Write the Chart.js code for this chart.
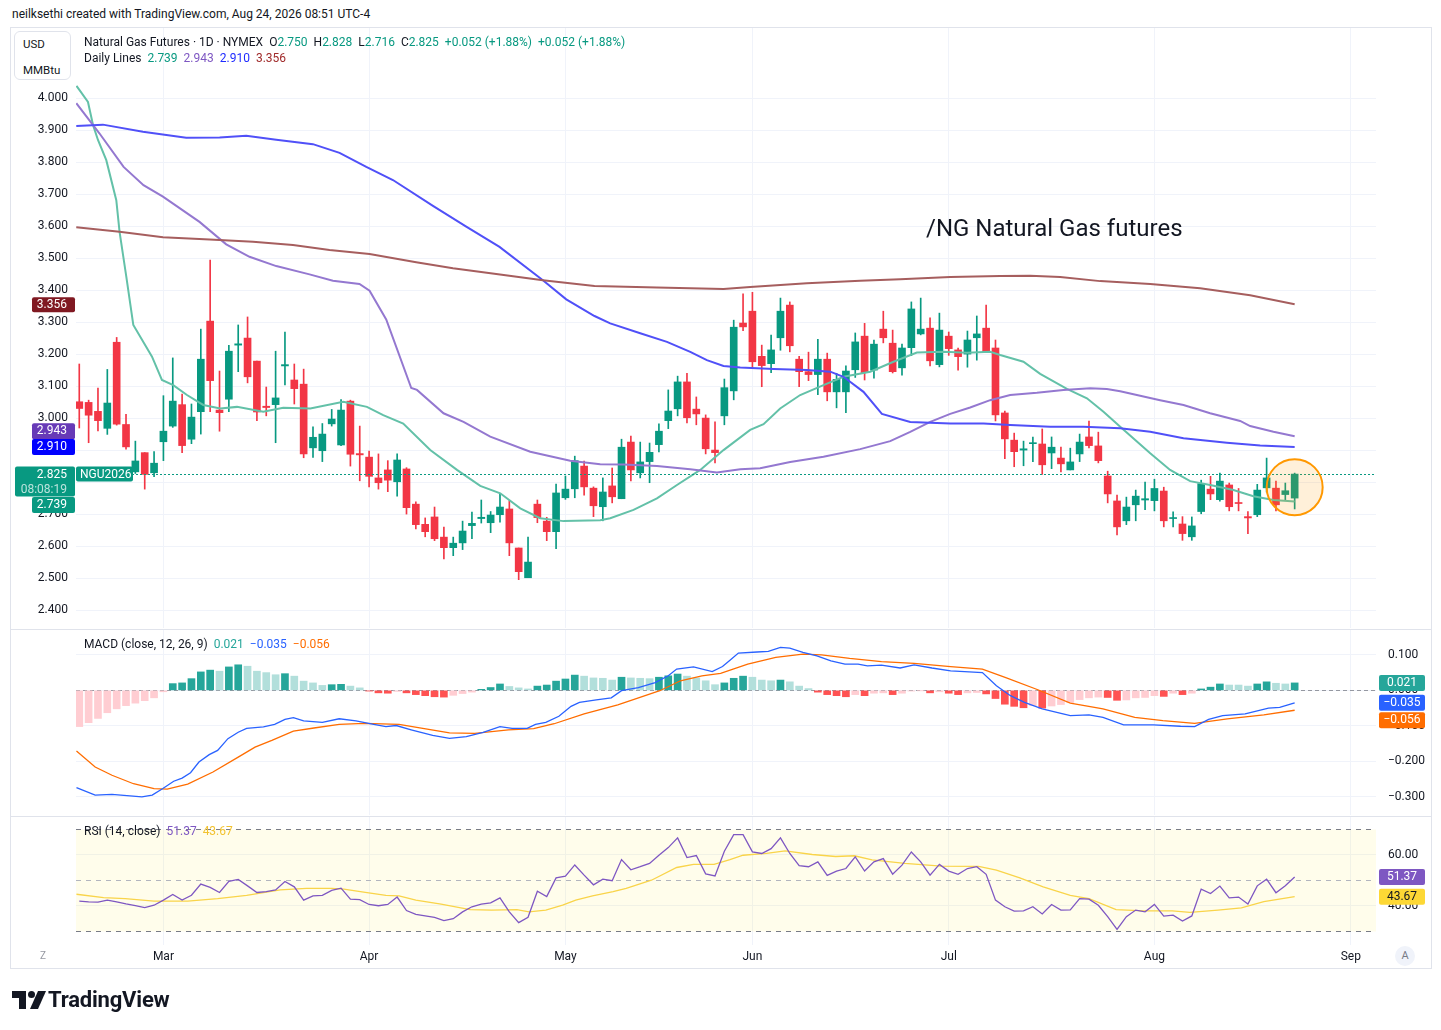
<!DOCTYPE html>
<html>
<head>
<meta charset="utf-8">
<script src="https://cdn.jsdelivr.net/npm/chart.js@4.4.1/dist/chart.umd.min.js"></script>
<style>
body{margin:0;background:#fff;width:1441px;height:1030px;position:relative;overflow:hidden;font-family:Roboto,"Liberation Sans",Arial,sans-serif;color:#131722}
.abs{position:absolute}
.sep{left:10px;width:1422px;height:1px;background:#e0e3eb}
.lg{font-size:12px;line-height:14px;white-space:nowrap}
.lg span{margin-right:6px}
.up{color:#089981}
</style>
</head>
<body>
<div class="abs lg" style="left:12px;top:7px">neilksethi created with TradingView.com, Aug 24, 2026 08:51 UTC-4</div>
<div class="abs" style="left:10px;top:27px;width:1422px;height:942px;border:1px solid #e0e3eb;box-sizing:border-box"></div>

<canvas id="main" class="abs" style="left:12px;top:28px" width="1420" height="600"></canvas>
<div class="abs sep" style="top:629px"></div>
<canvas id="macd" class="abs" style="left:12px;top:630px" width="1420" height="185"></canvas>
<div class="abs sep" style="top:816px"></div>
<canvas id="rsi" class="abs" style="left:12px;top:817px" width="1420" height="151"></canvas>

<div class="abs" style="left:14px;top:31px;width:57px;height:49px;border:1px solid #e0e3eb;border-radius:6px;box-sizing:border-box;background:#fff;font-size:11.5px">
  <div class="abs" style="left:8px;top:5px">USD</div>
  <div class="abs" style="left:8px;top:31px">MMBtu</div>
</div>
<div class="abs lg" style="left:84px;top:35px">
  <span>Natural Gas Futures · 1D · NYMEX</span><span>O<b class="up" style="font-weight:normal">2.750</b></span><span>H<b class="up" style="font-weight:normal">2.828</b></span><span>L<b class="up" style="font-weight:normal">2.716</b></span><span>C<b class="up" style="font-weight:normal">2.825</b></span><span class="up">+0.052 (+1.88%)</span><span class="up">+0.052 (+1.88%)</span>
</div>
<div class="abs lg" style="left:84px;top:51px">
  <span>Daily Lines</span><span style="color:#089981">2.739</span><span style="color:#7e57c2">2.943</span><span style="color:#1f2bff">2.910</span><span style="color:#a02a2a">3.356</span>
</div>
<div class="abs" style="left:926px;top:213px;font-size:24px;line-height:30px;white-space:nowrap">/NG Natural Gas futures</div>
<div class="abs lg" style="left:84px;top:637px">
  <span>MACD (close, 12, 26, 9)</span><span style="color:#26a69a">0.021</span><span style="color:#2962ff">−0.035</span><span style="color:#ff6d00">−0.056</span>
</div>
<div class="abs lg" style="left:84px;top:824px">
  <span>RSI (14, close)</span><span style="color:#7e57c2">51.37</span><span style="color:#f2c230">43.67</span>
</div>
<div class="abs" style="left:35px;top:948px;width:16px;height:16px;border-radius:8px;font-size:10px;line-height:16px;text-align:center;color:#9598a1">Z</div>
<div class="abs" style="left:1395px;top:946px;width:20px;height:20px;border-radius:10px;background:#f0f3fa;font-size:11px;line-height:20px;text-align:center;color:#787b86">A</div>
<svg class="abs" style="left:12px;top:991px" width="34" height="18" viewBox="0 0 34 18">
  <path d="M0 0H14V18H7V7H0Z" fill="#131722"/>
  <circle cx="19.5" cy="3.5" r="3.5" fill="#131722"/>
  <path d="M26 0H34L26 18H18Z" fill="#131722"/>
</svg>
<div class="abs" style="left:48px;top:986px;font-size:22px;line-height:28px;font-weight:700;letter-spacing:-0.2px">TradingView</div>

<script>
// ---- data ----
const monthIdx = [9, 31, 52, 72, 93, 115, 136];
const monthNames = ['Mar', 'Apr', 'May', 'Jun', 'Jul', 'Aug', 'Sep'];
const priceTicks = [2.4, 2.5, 2.6, 2.7, 2.8, 2.9, 3.0, 3.1, 3.2, 3.3, 3.4, 3.5, 3.6, 3.7, 3.8, 3.9, 4.0];
const macdTicks = [0.1, 0, -0.1, -0.2, -0.3];
const rsiTicks = [60, 40];

const openP = [3.051,3.049,3.021,2.968,3.237,2.980,2.832,2.892,2.829,2.926,
2.975,3.042,2.934,3.020,3.303,3.025,3.059,3.228,3.250,3.178,
3.037,3.042,3.163,3.119,3.106,2.907,2.898,2.982,2.916,3.053,
2.889,2.878,2.813,2.838,2.801,2.841,2.731,2.668,2.691,2.628,
2.595,2.610,2.664,2.686,2.673,2.698,2.716,2.594,2.501,2.731,
2.678,2.645,2.751,2.779,2.850,2.781,2.723,2.788,2.748,2.925,
2.829,2.864,2.917,2.992,3.029,3.113,3.028,3.000,2.900,3.007,
3.085,3.297,3.334,3.193,3.170,3.251,3.353,3.184,3.145,3.136,
3.184,3.082,3.082,3.151,3.256,3.150,3.278,3.234,3.157,3.220,
3.263,3.281,3.167,3.256,3.213,3.200,3.251,3.281,3.219,3.016,
2.931,2.900,2.920,2.919,2.891,2.875,2.838,2.888,2.941,2.913,
2.819,2.741,2.679,2.729,2.744,2.742,2.772,2.686,2.669,2.629,
2.708,2.778,2.745,2.791,2.736,2.692,2.698,2.782,2.781,2.761,
2.750];
const highP = [3.169,3.056,3.094,3.152,3.252,3.012,2.928,2.892,2.895,3.070,
3.188,3.075,3.044,3.278,3.494,3.147,3.227,3.291,3.316,3.178,
3.097,3.209,3.269,3.169,3.153,2.973,2.983,3.027,3.058,3.056,
2.975,2.897,2.888,2.867,2.888,2.845,2.738,2.688,2.722,2.659,
2.628,2.678,2.706,2.744,2.708,2.763,2.741,2.594,2.628,2.744,
2.690,2.794,2.819,2.881,2.866,2.785,2.813,2.844,2.934,2.944,
2.925,2.922,2.982,3.088,3.131,3.140,3.066,3.010,2.988,3.122,
3.306,3.388,3.393,3.228,3.259,3.375,3.363,3.193,3.206,3.246,
3.203,3.140,3.163,3.266,3.296,3.244,3.334,3.275,3.231,3.363,
3.375,3.313,3.328,3.269,3.219,3.272,3.319,3.353,3.244,3.022,
2.953,2.928,2.941,2.966,2.941,2.909,2.906,2.950,2.991,2.956,
2.834,2.759,2.753,2.775,2.800,2.809,2.784,2.707,2.692,2.691,
2.806,2.818,2.828,2.797,2.780,2.708,2.793,2.875,2.803,2.797,
2.828];
const lowP = [2.969,2.923,2.960,2.949,2.978,2.903,2.827,2.778,2.817,2.867,
2.971,2.892,2.920,2.950,3.020,2.959,3.020,3.145,3.110,2.992,
3.007,2.923,3.104,3.044,2.876,2.877,2.864,2.975,2.914,2.850,
2.804,2.785,2.778,2.770,2.756,2.700,2.654,2.629,2.617,2.560,
2.570,2.589,2.623,2.672,2.642,2.675,2.570,2.495,2.501,2.673,
2.617,2.592,2.746,2.751,2.759,2.692,2.679,2.735,2.748,2.804,
2.813,2.798,2.894,2.967,3.007,2.985,2.979,2.888,2.860,2.979,
3.057,3.273,3.158,3.098,3.142,3.212,3.207,3.098,3.117,3.073,
3.054,3.032,3.017,3.127,3.119,3.125,3.235,3.141,3.134,3.195,
3.260,3.163,3.160,3.196,3.150,3.159,3.181,3.206,2.991,2.873,
2.848,2.851,2.864,2.824,2.842,2.832,2.838,2.864,2.907,2.860,
2.735,2.635,2.667,2.679,2.714,2.710,2.660,2.660,2.618,2.618,
2.701,2.745,2.740,2.710,2.710,2.639,2.692,2.769,2.710,2.742,
2.716];
const closeP = [3.030,3.009,2.992,3.047,2.981,2.910,2.866,2.824,2.859,2.959,
3.053,2.914,3.003,3.184,3.117,3.017,3.209,3.232,3.129,3.019,
3.033,3.063,3.167,3.092,2.888,2.940,2.950,2.997,3.025,2.887,
2.885,2.818,2.798,2.806,2.869,2.720,2.667,2.645,2.623,2.595,
2.609,2.647,2.671,2.690,2.697,2.722,2.610,2.520,2.550,2.689,
2.645,2.766,2.778,2.867,2.785,2.726,2.769,2.754,2.909,2.838,
2.863,2.893,2.959,3.022,3.113,3.001,3.013,2.904,2.892,3.095,
3.284,3.285,3.176,3.164,3.213,3.334,3.226,3.145,3.136,3.184,
3.082,3.121,3.147,3.238,3.142,3.231,3.251,3.145,3.219,3.341,
3.278,3.179,3.275,3.217,3.192,3.244,3.263,3.206,3.010,2.935,
2.895,2.904,2.922,2.854,2.909,2.857,2.863,2.925,2.914,2.867,
2.763,2.660,2.722,2.756,2.748,2.780,2.679,2.689,2.639,2.663,
2.795,2.763,2.803,2.723,2.733,2.688,2.775,2.813,2.729,2.773,
2.825];

// daily lines, [bar index, price]
const ma20 = [[-0.3,4.038],[0.03,4.025],[0.93,3.988],[1.47,3.916],[2.0,3.869],[2.89,3.806],[3.96,3.681],[4.31,3.582],[5.03,3.442],[5.78,3.291],
[7.78,3.192],[8.84,3.119],[10.05,3.103],[11.52,3.072],[13.26,3.041],[15.08,3.030],[16.87,3.035],[19.68,3.020],[21.82,3.032],[24.71,3.030],
[28.24,3.051],[30.77,3.035],[32.51,3.009],[34.65,2.983],[37.54,2.900],[40.4,2.838],[42.89,2.788],[45.03,2.765],[47.17,2.718],[49.3,2.687],
[51.8,2.678],[55.72,2.681],[56.79,2.687],[59.28,2.713],[61.79,2.749],[63.93,2.791],[66.42,2.838],[68.91,2.900],[71.76,2.963],[73.19,2.981],
[74.97,3.030],[77.11,3.072],[79.6,3.103],[81.74,3.129],[84.6,3.145],[87.09,3.176],[89.59,3.205],[92.44,3.207],[94.94,3.204],[97.43,3.207],
[98.5,3.197],[100.99,3.176],[102.78,3.138],[105.64,3.091],[107.78,3.062],[109.55,3.020],[111.34,2.973],[114.55,2.890],[116.68,2.838],[118.82,2.803],
[120.96,2.791],[123.45,2.775],[125.59,2.756],[127.73,2.744],[130,2.739]];
const ma50 = [[-0.32,3.984],[2.15,3.890],[4.74,3.785],[6.87,3.728],[8.95,3.692],[12.86,3.613],[15.72,3.543],[18.21,3.504],[21.07,3.475],[24.63,3.449],
[27.13,3.429],[29.97,3.419],[31.05,3.398],[32.83,3.308],[35.51,3.094],[36.12,3.088],[38.96,3.015],[41.1,2.988],[43.96,2.942],[48.24,2.895],
[52.51,2.867],[55.72,2.856],[58.21,2.855],[61.79,2.850],[65.35,2.840],[68.2,2.830],[70.7,2.840],[72.83,2.843],[76.04,2.863],[79.6,2.879],
[83.53,2.903],[86.74,2.928],[88.88,2.957],[91.02,2.988],[93.16,3.013],[95.29,3.033],[97.43,3.056],[99.57,3.072],[102.43,3.079],[105.27,3.088],
[108.13,3.093],[109.91,3.091],[111.34,3.084],[115.61,3.056],[118.11,3.041],[120.96,3.015],[124.17,2.991],[125.24,2.975],[127.73,2.957],[130,2.943]];
const ma100 = [[-0.32,3.913],[2.53,3.917],[6.81,3.895],[11.44,3.876],[15.01,3.877],[17.86,3.882],[21.07,3.870],[24.99,3.856],[27.84,3.829],[30.7,3.785],
[33.55,3.744],[37.83,3.663],[41.39,3.598],[44.95,3.535],[49.59,3.431],[52.09,3.371],[55.11,3.319],[56.79,3.296],[60,3.265],[62.86,3.238],
[65.35,3.207],[67.13,3.181],[68.91,3.163],[70.7,3.158],[74.26,3.153],[77.83,3.150],[80.32,3.145],[81.74,3.129],[83.88,3.082],[85.85,3.013],
[88.88,2.988],[93.16,2.983],[96.72,2.983],[99.57,2.978],[103.85,2.973],[107.41,2.973],[111.34,2.968],[114.55,2.957],[118.11,2.937],[122.75,2.923],
[126.31,2.914],[130,2.910]];
const ma200 = [[-0.32,3.596],[4.31,3.582],[8.95,3.565],[13.94,3.558],[18.58,3.551],[22.86,3.541],[26.77,3.525],[31.05,3.513],[36.04,3.487],[39.97,3.468],
[44.6,3.450],[49.59,3.431],[55.11,3.413],[61.79,3.408],[68.91,3.403],[71.76,3.410],[77.83,3.421],[83.53,3.429],[87.81,3.434],[93.16,3.441],
[98.5,3.444],[101.71,3.445],[104.92,3.441],[109.2,3.428],[114.55,3.419],[119.89,3.406],[125.24,3.384],[130,3.356]];

const macdHist = [-0.102,-0.091,-0.079,-0.063,-0.052,-0.043,-0.036,-0.029,-0.021,-0.004,
0.019,0.021,0.033,0.052,0.057,0.054,0.066,0.072,0.068,0.054,
0.050,0.044,0.047,0.040,0.026,0.021,0.014,0.016,0.017,0.012,
0.007,-0.002,-0.007,-0.008,-0.003,-0.007,-0.012,-0.015,-0.018,-0.019,
-0.014,-0.009,-0.005,0.003,0.008,0.018,0.011,0.007,0.004,0.012,
0.015,0.026,0.032,0.043,0.040,0.035,0.034,0.029,0.037,0.035,
0.034,0.033,0.037,0.041,0.046,0.040,0.035,0.027,0.016,0.021,
0.034,0.040,0.037,0.029,0.027,0.029,0.024,0.012,0.005,-0.005,
-0.012,-0.015,-0.018,-0.012,-0.015,-0.008,-0.007,-0.012,-0.008,-0.002,
-0.001,-0.007,-0.004,-0.008,-0.012,-0.007,-0.006,-0.010,-0.023,-0.039,
-0.045,-0.049,-0.043,-0.050,-0.044,-0.040,-0.034,-0.026,-0.021,-0.019,
-0.020,-0.028,-0.027,-0.021,-0.020,-0.015,-0.017,-0.008,-0.012,-0.008,
0.004,0.009,0.018,0.015,0.015,0.012,0.018,0.024,0.020,0.018,
0.021];
const macdLine = [[-0.3,-0.274],[1.7,-0.295],[3.5,-0.293],[6.7,-0.300],[7.8,-0.295],[8.9,-0.277],[10.1,-0.256],[11,-0.247],[11.9,-0.232],[12.8,-0.202],
[13.9,-0.181],[14.8,-0.169],[15.9,-0.136],[17,-0.118],[17.9,-0.107],[19.7,-0.103],[20.9,-0.096],[22,-0.082],[22.9,-0.077],[24,-0.086],
[26,-0.090],[27.8,-0.080],[29.6,-0.086],[31.5,-0.096],[32.8,-0.102],[33.9,-0.099],[35.5,-0.111],[37.8,-0.127],[39.6,-0.135],[41.4,-0.130],
[43.2,-0.118],[45,-0.102],[46.3,-0.107],[47.9,-0.107],[48.8,-0.096],[49.9,-0.090],[51.3,-0.073],[52.6,-0.045],[53.5,-0.034],[55.3,-0.027],
[56.9,-0.021],[58,-0.001],[59.8,0.008],[61.6,0.022],[63,0.041],[63.9,0.060],[65.7,0.066],[67.7,0.053],[68.8,0.067],[69.6,0.085],
[70.5,0.105],[72.5,0.108],[73.7,0.110],[75,0.121],[76,0.119],[77.4,0.107],[78.9,0.097],[80.4,0.083],[81.9,0.074],[83.3,0.074],
[84.3,0.069],[85.8,0.071],[87.8,0.063],[89.3,0.072],[91.2,0.063],[93.2,0.055],[94.7,0.053],[96.6,0.050],[98.1,0.013],[99.6,-0.015],
[101.1,-0.034],[103,-0.052],[106,-0.071],[108,-0.069],[109.5,-0.076],[111.7,-0.097],[114.9,-0.097],[117.8,-0.101],[119.3,-0.102],[120.8,-0.082],
[122.3,-0.071],[124.7,-0.066],[127.2,-0.050],[128.4,-0.048],[130,-0.035]];
const signalLine = [[-0.3,-0.171],[1.7,-0.216],[3.5,-0.239],[5.8,-0.263],[8,-0.277],[9.4,-0.278],[11.6,-0.264],[14.3,-0.230],[17,-0.188],[18.8,-0.160],
[20.6,-0.141],[22.9,-0.115],[25.1,-0.106],[27.8,-0.096],[30.5,-0.093],[34.2,-0.096],[36.9,-0.108],[39.6,-0.120],[42.3,-0.121],[45.9,-0.111],
[48.6,-0.108],[50.8,-0.094],[54,-0.066],[57.6,-0.041],[62.1,-0.001],[64.3,0.027],[66.6,0.041],[68.6,0.048],[71.5,0.074],[74.5,0.093],
[77.4,0.102],[79.4,0.100],[82.4,0.090],[85.8,0.081],[89.3,0.076],[93.2,0.067],[96.6,0.060],[99.1,0.036],[102.6,0.001],[106,-0.036],
[109.5,-0.052],[112.9,-0.076],[115.9,-0.085],[119.3,-0.093],[122.8,-0.080],[126.7,-0.069],[130,-0.056]];

const rsiVals = [41.9,41.6,41.5,42.3,41.6,40.8,40.1,39.4,40.3,42.3,
44.5,42.3,44.2,48.6,47.3,45.3,49.7,50.4,47.9,45.3,
45.6,46.3,49.6,47.5,42.3,44.0,44.2,46.1,47.0,42.7,
42.5,40.6,40.1,40.6,43.5,38.2,36.7,36.1,35.5,34.3,
35.0,37.7,39.7,40.7,41.2,43.2,37.7,33.5,35.6,45.8,
43.7,51.0,51.7,56.1,52.1,48.3,50.5,49.9,58.2,54.2,
55.4,56.7,59.9,62.9,66.7,59.0,59.8,52.6,51.8,61.5,
68.0,68.0,61.2,60.6,62.5,66.7,60.6,55.8,55.4,57.3,
52.0,53.7,54.7,59.3,53.7,57.3,58.6,52.5,56.0,61.2,
57.3,52.1,56.3,53.7,52.4,54.7,55.4,52.4,42.3,39.7,
38.0,38.1,39.7,36.9,40.6,38.4,38.5,42.9,42.7,40.3,
35.8,30.8,35.8,38.4,37.7,40.6,36.0,36.4,34.1,36.1,
46.6,44.9,47.8,43.2,43.5,40.8,47.9,50.5,45.2,47.9,
51.37];
const rsiMa = [[-0.3,44.6],[2.6,43.3],[4.9,42.9],[8,41.9],[11.6,41.9],[14.8,42.9],[17.9,44.2],[21.5,46.3],[24.3,46.9],[27,46.9],
[28.3,46.6],[30.6,45.3],[32.8,44.2],[34.2,44.0],[36,42.3],[38.7,40.7],[41.8,38.6],[44.1,38.4],[46.8,38.6],[48.1,37.7],
[49.9,38.4],[51.7,40.3],[53.1,42.3],[54.9,44.0],[57.1,45.6],[58.5,46.9],[61.2,50.1],[63.9,55.1],[65.7,56.3],[67.9,56.3],
[69.6,58.2],[71,59.9],[73.5,60.6],[75.5,61.6],[78.4,60.2],[80.9,59.4],[82.9,59.7],[84.8,58.1],[88.3,56.7],[92.2,55.6],
[96.2,55.5],[98.1,54.1],[100.6,51.0],[103.1,47.5],[106,44.2],[108,42.9],[110.9,38.6],[113.9,38.1],[116.9,38.1],[118.8,37.5],
[121.8,38.4],[124.3,39.3],[126.7,41.7],[130,43.67]];

// ---- look ----
const X_MIN = -0.35, X_MAX = 138.7;
const GRID = '#f0f3fa';
const UP = '#089981', DOWN = '#f23645';
Chart.defaults.font.family = 'Roboto, "Liberation Sans", Arial, sans-serif';
Chart.defaults.font.size = 12;
Chart.defaults.color = '#131722';
Chart.defaults.animation = false;

const xy = pts => pts.map(p => ({x: p[0], y: p[1]}));
const fmt3 = v => (v < 0 ? '\u2212' : '') + Math.abs(v).toFixed(3);

function timeScale(showLabels) {
    return {
        type: 'linear', min: X_MIN, max: X_MAX, offset: false,
        afterBuildTicks: s => { s.ticks = monthIdx.map(v => ({value: v})); },
        ticks: {display: showLabels, autoSkip: false, maxRotation: 0, padding: 5,
            callback: v => monthNames[monthIdx.indexOf(v)]},
        grid: {color: GRID, drawTicks: false, offset: false},
        border: {display: false},
        afterFit: s => { s.height = showLabels ? 23 : 0; s.paddingLeft = 0; s.paddingRight = 0; }
    };
}

function tag(ctx, x, y, w, h, bg, lines, align) {
    ctx.save();
    ctx.fillStyle = bg;
    ctx.beginPath();
    ctx.roundRect(x, y, w, h, 2);
    ctx.fill();
    ctx.textBaseline = 'middle';
    ctx.font = '12px Roboto, "Liberation Sans", Arial, sans-serif';
    ctx.textAlign = align;
    lines.forEach((ln, k) => {
        ctx.fillStyle = ln.color;
        const tx = align === 'right' ? x + w - 8 : (align === 'center' ? x + w / 2 : x + 4);
        ctx.fillText(ln.text, tx, y + 8 + k * 15);
    });
    ctx.restore();
}

function hline(ctx, area, y, color, dash) {
    ctx.save();
    ctx.strokeStyle = color;
    ctx.lineWidth = 1;
    ctx.setLineDash(dash);
    ctx.beginPath();
    ctx.moveTo(area.left, Math.round(y) + 0.5);
    ctx.lineTo(area.right, Math.round(y) + 0.5);
    ctx.stroke();
    ctx.restore();
}

// ---- price pane ----
const candleColors = closeP.map((c, i) => c >= openP[i] ? UP : DOWN);
const wicks = lowP.map((l, i) => ({x: i, y: [l, highP[i]]}));
const bodies = openP.map((o, i) => ({x: i, y: [o, closeP[i]]}));

const lineDs = (data, color) => ({
    type: 'line', data: xy(data), borderColor: color, borderWidth: 2,
    pointRadius: 0, tension: 0, order: 0
});

const mainOverlay = {
    id: 'mainOverlay',
    afterDatasetsDraw(chart) {
        const {ctx, chartArea, scales: {x, y}} = chart;
        hline(ctx, chartArea, y.getPixelForValue(closeP[closeP.length - 1]), UP, [2, 2]);
        // the orange ring round the last bars
        ctx.save();
        ctx.beginPath();
        ctx.arc(x.getPixelForValue(130), y.getPixelForValue(2.784), 28, 0, Math.PI * 2);
        ctx.fillStyle = 'rgba(255,152,0,0.15)';
        ctx.fill();
        ctx.strokeStyle = '#ff9800';
        ctx.lineWidth = 2;
        ctx.stroke();
        ctx.restore();
    },
    afterDraw(chart) {
        const {ctx, chartArea, scales: {y}} = chart;
        const py = v => y.getPixelForValue(v);
        tag(ctx, 20, py(3.356) - 7, 43, 15, '#801922', [{text: '3.356', color: '#fff'}], 'right');
        tag(ctx, 20, py(2.943) - 13, 43, 16, '#673ab7', [{text: '2.943', color: '#fff'}], 'right');
        tag(ctx, 20, py(2.910) - 8, 43, 16, '#0000ff', [{text: '2.910', color: '#fff'}], 'right');
        tag(ctx, 3, py(2.825) - 7.5, 60, 30, UP, [{text: '2.825', color: '#fff'}, {text: '08:08:19', color: 'rgba(255,255,255,0.72)'}], 'right');
        tag(ctx, 20, py(2.739) - 4.5, 43, 16, UP, [{text: '2.739', color: '#fff'}], 'right');
        tag(ctx, chartArea.left, py(2.825) - 7.5, 57, 15, UP, [{text: 'NGU2026', color: '#fff'}], 'left');
    }
};

new Chart(document.getElementById('main'), {
    type: 'bar',
    data: {
        datasets: [
            lineDs(ma200, '#a65e5e'),
            lineDs(ma100, '#5050f8'),
            lineDs(ma50, '#9478d0'),
            lineDs(ma20, '#63c1a8'),
            {data: bodies, backgroundColor: candleColors, barThickness: 7, minBarLength: 1, grouped: false, order: 1},
            {data: wicks, backgroundColor: candleColors, barThickness: 1, grouped: false, order: 2}
        ]
    },
    options: {
        responsive: false,
        layout: {padding: {left: 0, right: 56, top: 0, bottom: 0}},
        plugins: {legend: {display: false}, tooltip: {enabled: false}},
        scales: {
            x: timeScale(false),
            y: {
                position: 'left', min: 2.344, max: 4.219, beginAtZero: false,
                afterBuildTicks: s => { s.ticks = priceTicks.map(v => ({value: v})); },
                ticks: {padding: 8, callback: v => v.toFixed(3)},
                grid: {color: GRID, drawTicks: false},
                border: {display: false},
                afterFit: s => { s.width = 64; s.paddingTop = 0; s.paddingBottom = 0; }
            }
        }
    },
    plugins: [mainOverlay]
});

// ---- MACD pane ----
const histColors = macdHist.map((v, i) => {
    const rising = i === 0 || v > macdHist[i - 1];
    if (v >= 0) return rising ? '#26a69a' : '#b2dfdb';
    return rising ? '#ffcdd2' : '#ff5252';
});

const macdOverlay = {
    id: 'macdOverlay',
    beforeDatasetsDraw(chart) {
        const {ctx, chartArea, scales: {y}} = chart;
        hline(ctx, chartArea, y.getPixelForValue(0), '#9598a1', [4, 3]);
    },
    afterDraw(chart) {
        const {ctx, chartArea, scales: {y}} = chart;
        const py = v => y.getPixelForValue(v);
        const x0 = chartArea.right + 3;
        tag(ctx, x0, py(0.021) - 8, 46, 16, '#26a69a', [{text: '0.021', color: '#fff'}], 'center');
        tag(ctx, x0, py(-0.035) - 8, 46, 16, '#2962ff', [{text: '\u22120.035', color: '#fff'}], 'center');
        tag(ctx, x0, py(-0.056) + 2, 46, 16, '#ff6d00', [{text: '\u22120.056', color: '#fff'}], 'center');
    }
};

new Chart(document.getElementById('macd'), {
    type: 'bar',
    data: {
        datasets: [
            {type: 'line', data: xy(macdLine), borderColor: '#2962ff', borderWidth: 1.3, pointRadius: 0, tension: 0, order: 0},
            {type: 'line', data: xy(signalLine), borderColor: '#ff6d00', borderWidth: 1.3, pointRadius: 0, tension: 0, order: 0},
            {data: macdHist.map((v, i) => ({x: i, y: v})), backgroundColor: histColors, barThickness: 7, grouped: false, order: 1}
        ]
    },
    options: {
        responsive: false,
        layout: {padding: {left: 64, right: 0, top: 0, bottom: 0}},
        plugins: {legend: {display: false}, tooltip: {enabled: false}},
        scales: {
            x: timeScale(false),
            y: {
                position: 'right', min: -0.351, max: 0.170, beginAtZero: false,
                afterBuildTicks: s => { s.ticks = macdTicks.map(v => ({value: v})); },
                ticks: {padding: 12, callback: v => fmt3(v)},
                grid: {color: GRID, drawTicks: false},
                border: {display: false},
                afterFit: s => { s.width = 56; s.paddingTop = 0; s.paddingBottom = 0; }
            }
        }
    },
    plugins: [macdOverlay]
});

// ---- RSI pane ----
const rsiOverlay = {
    id: 'rsiOverlay',
    beforeDatasetsDraw(chart) {
        const {ctx, chartArea, scales: {y}} = chart;
        const top = y.getPixelForValue(70), bot = y.getPixelForValue(30);
        ctx.save();
        ctx.fillStyle = 'rgba(255,235,59,0.1)';
        ctx.fillRect(chartArea.left, top, chartArea.right - chartArea.left, bot - top);
        ctx.restore();
        hline(ctx, chartArea, top, '#787b86', [5, 5]);
        hline(ctx, chartArea, y.getPixelForValue(50), '#b2b5be', [5, 5]);
        hline(ctx, chartArea, bot, '#787b86', [5, 5]);
    },
    afterDraw(chart) {
        const {ctx, chartArea, scales: {y}} = chart;
        const py = v => y.getPixelForValue(v);
        const x0 = chartArea.right + 3;
        tag(ctx, x0, py(51.37) - 8, 46, 16, '#7e57c2', [{text: '51.37', color: '#fff'}], 'center');
        tag(ctx, x0, py(43.67) - 8, 46, 16, '#fdd835', [{text: '43.67', color: '#131722'}], 'center');
    }
};

new Chart(document.getElementById('rsi'), {
    type: 'line',
    data: {
        datasets: [
            {data: rsiVals.map((v, i) => ({x: i, y: v})), borderColor: '#7e57c2', borderWidth: 1.3, pointRadius: 0, tension: 0},
            {data: xy(rsiMa), borderColor: '#f9d44a', borderWidth: 1.3, pointRadius: 0, tension: 0}
        ]
    },
    options: {
        responsive: false,
        layout: {padding: {left: 64, right: 0, top: 0, bottom: 0}},
        plugins: {legend: {display: false}, tooltip: {enabled: false}},
        scales: {
            x: timeScale(true),
            y: {
                position: 'right', min: 24.7, max: 74.9,
                afterBuildTicks: s => { s.ticks = rsiTicks.map(v => ({value: v})); },
                ticks: {padding: 12, callback: v => v.toFixed(2)},
                grid: {color: GRID, drawTicks: false},
                border: {display: false},
                afterFit: s => { s.width = 56; s.paddingTop = 0; s.paddingBottom = 0; }
            }
        }
    },
    plugins: [rsiOverlay]
});
</script>
</body>
</html>
